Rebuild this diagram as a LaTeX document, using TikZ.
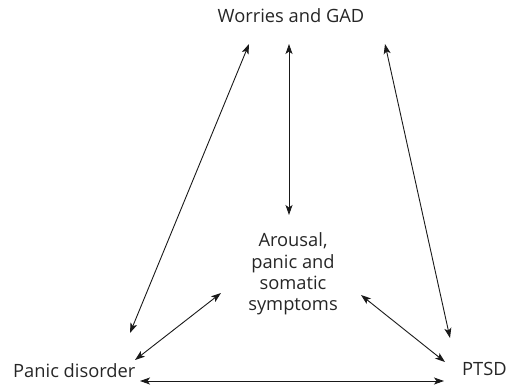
\documentclass[tikz,border=0pt]{standalone}
\usepackage{fontspec}
\setmainfont{Open Sans}
\usetikzlibrary{arrows.meta}
\begin{document}
\begin{tikzpicture}[x=1pt,y=-1pt,
  label/.style={font=\fontsize{18.3}{21.2}\selectfont, text=black!85, inner sep=0pt, align=center},
  link/.style={{Stealth[length=10pt,width=7pt,inset=2.5pt]}-{Stealth[length=10pt,width=7pt,inset=2.5pt]}, line width=0.9pt, black!90}]
  \useasboundingbox (0,0) rectangle (510,390);
  % diagnostic labels
  \node[label, anchor=base] (gad) at (291,23) {Worries and GAD};
  \node[label] (arousal) at (293,274) {Arousal,\\panic and\\somatic\\symptoms};
  \node[label, anchor=base west] (panic) at (13,377) {Panic disorder};
  \node[label, anchor=base west] (ptsd) at (462,375) {PTSD};
  % arrow end points
  \coordinate (g1) at (249,44);
  \coordinate (g2) at (289,44);
  \coordinate (g3) at (385,44);
  \coordinate (p1) at (130,333);
  \coordinate (p2) at (135,360);
  \coordinate (p3) at (140,381);
  \coordinate (a1) at (289,215);
  \coordinate (a2) at (221,293);
  \coordinate (a3) at (361,295);
  \coordinate (t1) at (450,338);
  \coordinate (t2) at (445,362);
  \coordinate (t3) at (444,381);
  % connections
  \draw[link] (g1) -- (p1);
  \draw[link] (g2) -- (a1);
  \draw[link] (g3) -- (t1);
  \draw[link] (a2) -- (p2);
  \draw[link] (a3) -- (t2);
  \draw[link] (p3) -- (t3);
\end{tikzpicture}
\end{document}
